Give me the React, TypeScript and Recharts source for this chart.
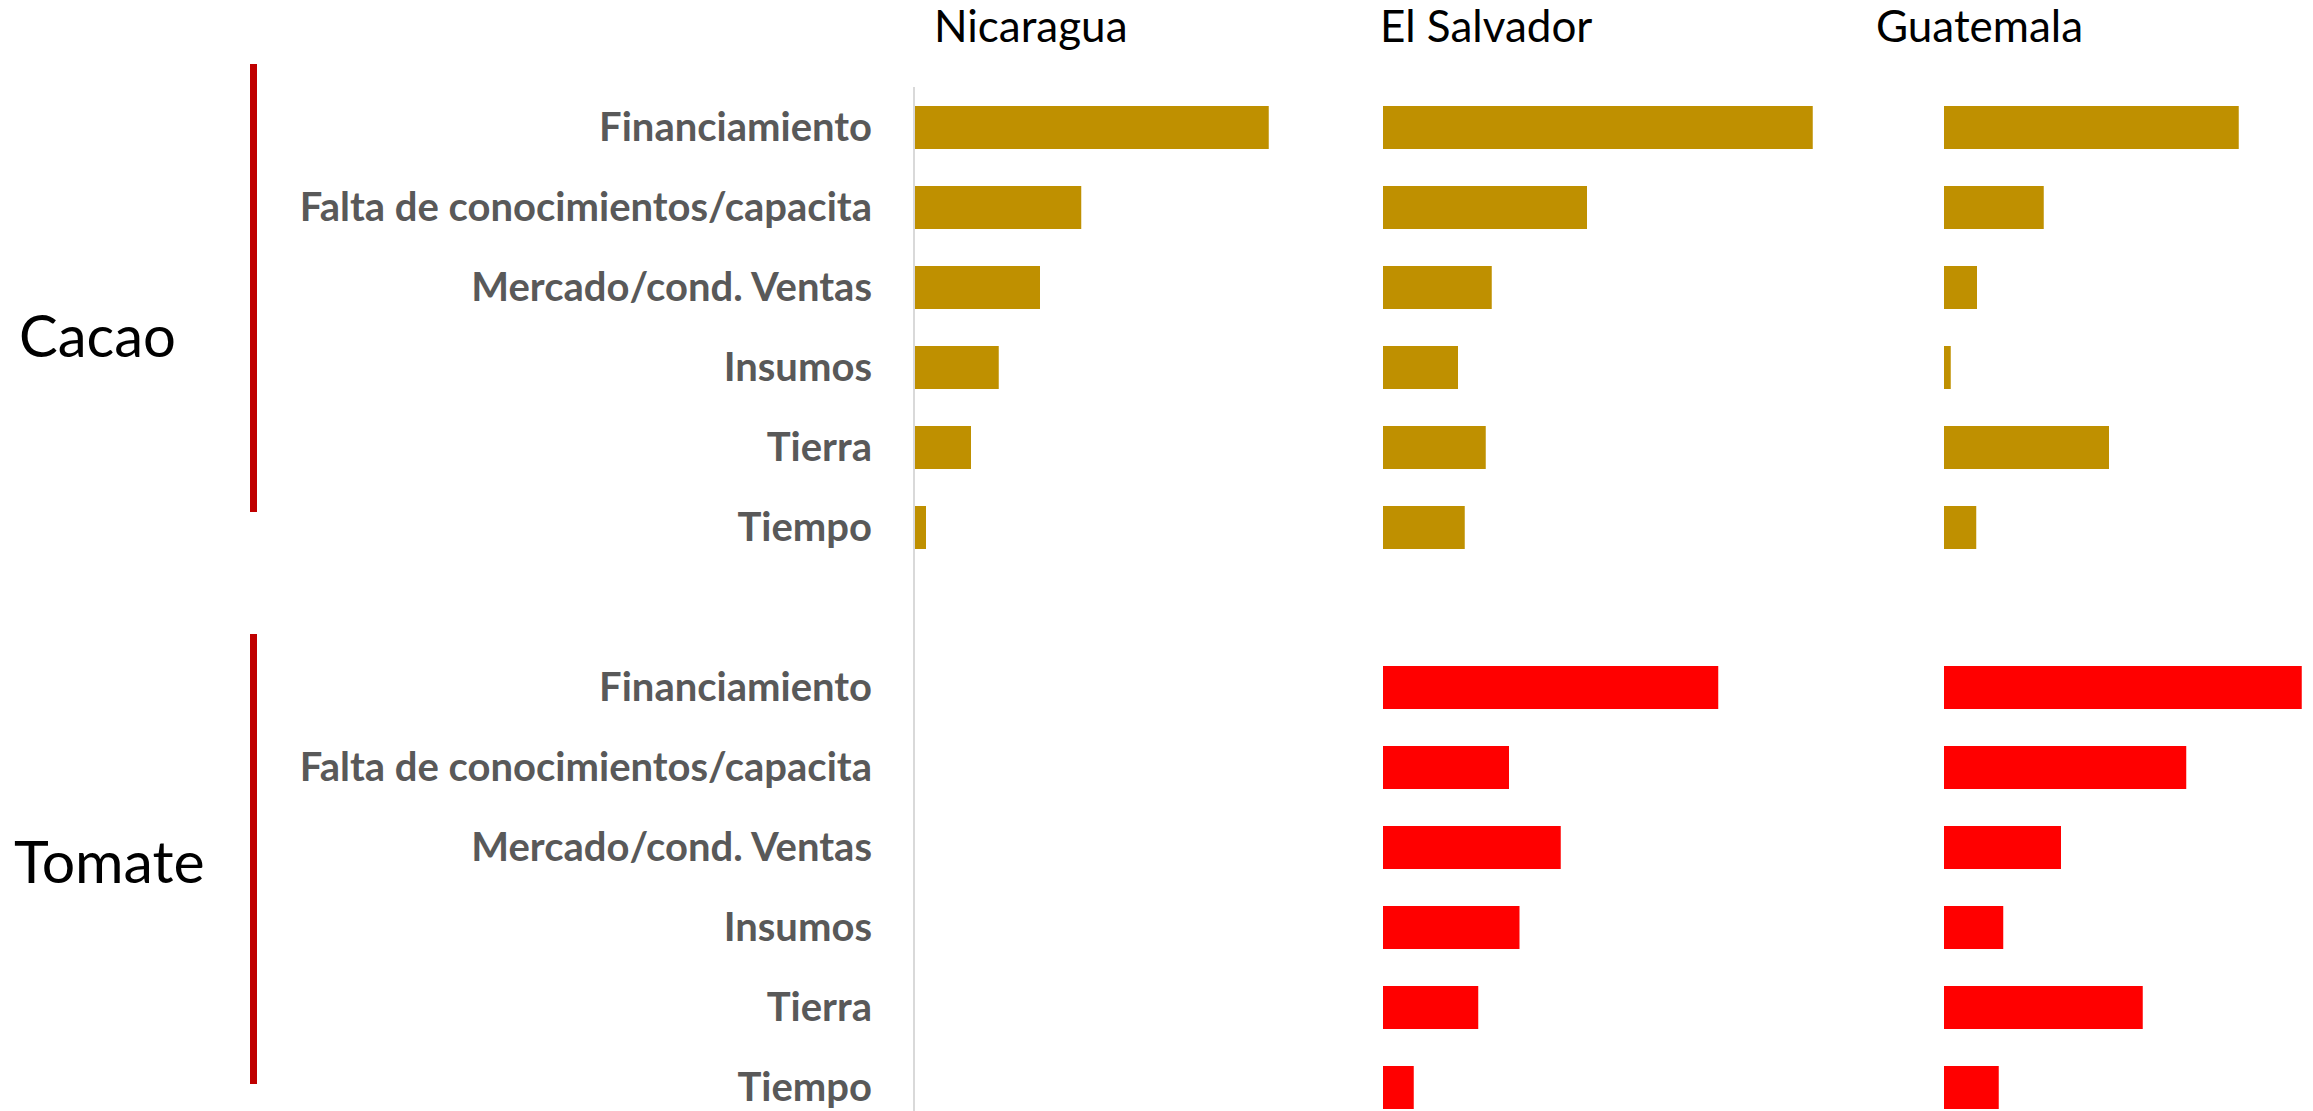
import React from 'react';
import { BarChart, Bar, XAxis, YAxis, Cell } from 'recharts';

// factors, shared by both crops
const factores = [
  'Financiamiento',
  'Falta de conocimientos/capacita',
  'Mercado/cond. Ventas',
  'Insumos',
  'Tierra',
  'Tiempo',
];

const paises = ['Nicaragua', 'El Salvador', 'Guatemala'];
const cultivos = ['Cacao', 'Tomate'];

// values (%)
const nicaraguaCacao = [47.3, 22.3, 16.8, 11.3, 7.6, 1.6];
const nicaraguaTomate = [null, null, null, null, null, null];
const salvadorCacao = [57.3, 27.2, 14.5, 10.0, 13.7, 10.9];
const salvadorTomate = [44.7, 16.8, 23.7, 18.2, 12.7, 4.1];
const guatemalaCacao = [39.3, 13.3, 4.4, 0.9, 22.0, 4.3];
const guatemalaTomate = [47.7, 32.3, 15.6, 7.9, 26.5, 7.3];

const colores: Record<string, string> = { Cacao: '#BF9000', Tomate: '#FF0000' };
const FONT = 'Lato, "Noto Sans", sans-serif';

type Row = { factor: string; grupo: string; valor: number | null };

const buildRows = (cacao: (number | null)[], tomate: (number | null)[]): Row[] => [
  ...factores.map((f, i) => ({ factor: f, grupo: 'Cacao', valor: cacao[i] })),
  { factor: '', grupo: '', valor: null },
  ...factores.map((f, i) => ({ factor: f, grupo: 'Tomate', valor: tomate[i] })),
];

const paneles = [
  { rows: buildRows(nicaraguaCacao, nicaraguaTomate), left: 0, axisWidth: 914 },
  { rows: buildRows(salvadorCacao, salvadorTomate), left: 1383, axisWidth: 0 },
  { rows: buildRows(guatemalaCacao, guatemalaTomate), left: 1944, axisWidth: 0 },
];

const PLOT_W = 450;
const CHART_TOP = 87;
const CHART_H = 1040;

const Panel = ({ rows, left, axisWidth }: { rows: Row[]; left: number; axisWidth: number }) => (
  <div style={{ position: 'absolute', left, top: CHART_TOP }}>
    <BarChart
      width={axisWidth + PLOT_W}
      height={CHART_H}
      data={rows}
      layout="vertical"
      margin={{ top: 0, right: 0, bottom: 0, left: 0 }}
    >
      <XAxis type="number" domain={[0, 60]} hide />
      <YAxis
        type="category"
        dataKey="factor"
        hide={axisWidth === 0}
        width={axisWidth || 1}
        interval={0}
        tickLine={false}
        tickSize={0}
        tickMargin={42}
        axisLine={{ stroke: '#D9D9D9', strokeWidth: 2 }}
        tick={{ fill: '#595959', fontSize: 40, fontWeight: 700, fontFamily: FONT }}
      />
      <Bar dataKey="valor" barSize={43} isAnimationActive={false}>
        {rows.map((r, i) => (
          <Cell key={i} fill={colores[r.grupo] || 'transparent'} />
        ))}
      </Bar>
    </BarChart>
  </div>
);

export default function App() {
  return (
    <div
      style={{
        position: 'absolute',
        left: 0,
        top: 0,
        width: 2313,
        height: 1111,
        overflow: 'hidden',
        background: '#fff',
      }}
    >
      {paneles.map((p, i) => (
        <Panel key={i} {...p} />
      ))}
      <svg
        width={2313}
        height={1111}
        style={{ position: 'absolute', left: 0, top: 0, pointerEvents: 'none' }}
      >
        {/* country titles */}
        {paises.map((p, i) => (
          <text
            key={p}
            x={[934, 1380, 1876][i]}
            y={42}
            fontFamily={FONT}
            fontSize={44}
            fill="#000"
          >
            {p}
          </text>
        ))}
        {/* crop brackets + labels */}
        <line x1={253.5} x2={253.5} y1={64} y2={512} stroke="#C00000" strokeWidth={7} />
        <line x1={253.5} x2={253.5} y1={634} y2={1084} stroke="#C00000" strokeWidth={7} />
        <text x={19} y={357} fontFamily={FONT} fontSize={58} fill="#000">
          {cultivos[0]}
        </text>
        <text x={14} y={883} fontFamily={FONT} fontSize={59} fill="#000">
          {cultivos[1]}
        </text>
      </svg>
    </div>
  );
}
